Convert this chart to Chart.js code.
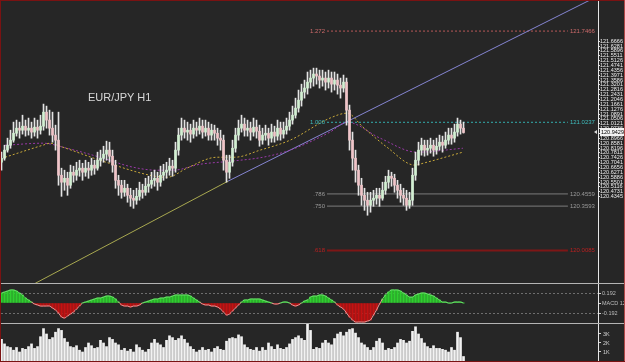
<!DOCTYPE html>
<html>
<head>
<meta charset="utf-8">
<script src="https://cdn.jsdelivr.net/npm/chart.js@4.4.0/dist/chart.umd.min.js"></script>
<style>
    body { margin: 0; width: 625px; height: 362px; background: #262626; position: relative; overflow: hidden; font-family: "Liberation Sans", Arial, sans-serif; }
    .pane { position: absolute; left: 1px; width: 623px; }
    #p1 { top: 1px; height: 282px; }
    #p2 { top: 284px; height: 39px; }
    #p3 { top: 324px; height: 37px; }
    .line { position: absolute; }
    #title { position: absolute; left: 88px; top: 91px; color: #d8d8d8; font-size: 11px; }
</style>
</head>
<body>
<div class="pane" id="p1"><canvas id="priceChart" width="623" height="282"></canvas></div>
<div class="pane" id="p2"><canvas id="macdChart" width="623" height="39"></canvas></div>
<div class="pane" id="p3"><canvas id="volChart" width="623" height="37"></canvas></div>
<div class="line" style="left:0;top:283px;width:625px;height:1px;background:#b4b4b4"></div>
<div class="line" style="left:0;top:323px;width:625px;height:1px;background:#b4b4b4"></div>
<div class="line" style="left:0;top:0;width:1px;height:362px;background:#7a1212"></div>
<div class="line" style="left:0;top:0;width:625px;height:1px;background:#7a1212"></div>
<div class="line" style="left:624px;top:0;width:1px;height:362px;background:#b04848"></div>
<div class="line" style="left:0;top:361px;width:625px;height:1px;background:#7a1212"></div>
<div id="title">EUR/JPY H1</div>
<script>
// EUR/JPY H1 candles (open of each bar = previous close)
const firstOpen = 120.707;
const closes = [
    120.739, 120.803, 120.842, 120.882, 120.937, 120.977, 120.961, 120.993, 120.961, 120.977,
    120.946, 120.985, 120.961, 120.993, 121.104, 121.041, 120.977, 120.922, 120.882, 120.604,
    120.549, 120.580, 120.525, 120.628, 120.604, 120.644, 120.660, 120.628, 120.660, 120.644,
    120.684, 120.660, 120.723, 120.739, 120.771, 120.803, 120.755, 120.684, 120.564, 120.525,
    120.469, 120.501, 120.445, 120.422, 120.406, 120.437, 120.485, 120.469, 120.517, 120.533,
    120.564, 120.580, 120.549, 120.604, 120.628, 120.644, 120.676, 120.660, 120.803, 120.922,
    120.977, 120.946, 120.961, 120.930, 120.977, 120.961, 120.993, 120.946, 120.977, 120.922,
    120.961, 120.937, 120.898, 120.882, 120.723, 120.628, 120.707, 120.818, 120.922, 120.977,
    121.009, 120.961, 120.977, 120.946, 120.985, 120.953, 120.882, 120.922, 120.937, 120.898,
    120.946, 120.914, 120.977, 120.930, 120.961, 120.993, 121.041, 121.080, 121.136, 121.199,
    121.263, 121.295, 121.342, 121.374, 121.406, 121.390, 121.358, 121.374, 121.342, 121.374,
    121.326, 121.358, 121.318, 121.295, 121.342, 121.120, 120.882, 120.739, 120.644, 120.525,
    120.445, 120.406, 120.366, 120.406, 120.422, 120.445, 120.422, 120.485, 120.549, 120.596,
    120.580, 120.525, 120.485, 120.445, 120.422, 120.366, 120.406, 120.604, 120.723, 120.803,
    120.842, 120.803, 120.818, 120.842, 120.803, 120.834, 120.866, 120.842, 120.882, 120.922,
    120.898, 120.946, 121.009, 120.977, 120.9429
];
const highs = [
    120.787, 120.842, 120.898, 120.961, 121.025, 121.041, 121.025, 121.080, 121.041, 121.057,
    121.025, 121.057, 121.041, 121.080, 121.168, 121.152, 121.120, 121.104, 121.001, 121.104,
    120.660, 120.644, 120.628, 120.684, 120.676, 120.707, 120.723, 120.699, 120.723, 120.707,
    120.739, 120.723, 120.787, 120.803, 120.834, 120.874, 120.866, 120.803, 120.723, 120.604,
    120.564, 120.564, 120.533, 120.501, 120.485, 120.501, 120.549, 120.533, 120.580, 120.596,
    120.628, 120.644, 120.628, 120.676, 120.691, 120.707, 120.739, 120.723, 120.866, 120.977,
    121.057, 121.041, 121.025, 121.009, 121.041, 121.025, 121.057, 121.041, 121.041, 121.025,
    121.009, 121.001, 120.977, 120.961, 120.922, 120.763, 120.763, 120.882, 120.977, 121.041,
    121.080, 121.057, 121.041, 121.025, 121.057, 121.041, 121.001, 120.977, 121.001, 120.977,
    121.009, 120.993, 121.041, 121.025, 121.025, 121.057, 121.104, 121.152, 121.215, 121.279,
    121.326, 121.358, 121.422, 121.437, 121.453, 121.453, 121.437, 121.437, 121.422, 121.437,
    121.422, 121.422, 121.406, 121.374, 121.398, 121.374, 121.160, 120.946, 120.803, 120.684,
    120.580, 120.501, 120.469, 120.469, 120.485, 120.501, 120.501, 120.549, 120.596, 120.644,
    120.628, 120.612, 120.564, 120.533, 120.501, 120.485, 120.469, 120.660, 120.787, 120.866,
    120.898, 120.882, 120.882, 120.898, 120.882, 120.898, 120.922, 120.914, 120.946, 120.977,
    120.977, 121.009, 121.057, 121.041, 121.025
];
const lows = [
    120.644, 120.723, 120.787, 120.818, 120.866, 120.914, 120.898, 120.930, 120.914, 120.922,
    120.898, 120.914, 120.898, 120.930, 120.961, 120.977, 120.922, 120.866, 120.803, 120.525,
    120.437, 120.485, 120.445, 120.501, 120.549, 120.564, 120.596, 120.564, 120.596, 120.580,
    120.604, 120.612, 120.644, 120.676, 120.707, 120.723, 120.707, 120.628, 120.501, 120.445,
    120.422, 120.437, 120.390, 120.358, 120.342, 120.374, 120.406, 120.422, 120.445, 120.469,
    120.501, 120.517, 120.485, 120.517, 120.564, 120.580, 120.604, 120.596, 120.628, 120.763,
    120.882, 120.898, 120.882, 120.866, 120.898, 120.914, 120.930, 120.898, 120.914, 120.882,
    120.882, 120.882, 120.842, 120.803, 120.644, 120.549, 120.580, 120.676, 120.787, 120.882,
    120.946, 120.914, 120.914, 120.882, 120.914, 120.898, 120.834, 120.850, 120.882, 120.842,
    120.866, 120.866, 120.882, 120.882, 120.898, 120.930, 120.961, 121.009, 121.057, 121.104,
    121.152, 121.215, 121.247, 121.295, 121.310, 121.326, 121.295, 121.310, 121.279, 121.295,
    121.263, 121.279, 121.247, 121.215, 121.263, 121.001, 120.803, 120.644, 120.549, 120.445,
    120.366, 120.326, 120.287, 120.311, 120.358, 120.374, 120.358, 120.406, 120.453, 120.501,
    120.517, 120.469, 120.422, 120.390, 120.366, 120.326, 120.342, 120.366, 120.564, 120.684,
    120.763, 120.755, 120.763, 120.779, 120.755, 120.771, 120.803, 120.787, 120.818, 120.850,
    120.850, 120.866, 120.914, 120.930, 120.938
];

// moving averages read at a few bars
const fastMaIdx = [1.2, 13.8, 16.2, 19.5, 32.8, 49.5, 55.2, 61.8, 69.5, 72.8, 77.8, 86.2, 96.2, 109.5, 115.2, 120.5, 128.5, 137.8, 140.5, 153.8];
const fastMa = [120.747, 120.842, 120.858, 120.834, 120.723, 120.604, 120.588, 120.660, 120.739, 120.747, 120.747, 120.803, 120.882, 121.057, 121.096, 120.985, 120.826, 120.684, 120.699, 120.787];
const slowMaIdx = [1.2, 13.8, 21.8, 32.8, 43.8, 51.8, 57.2, 66.2, 76.2, 87.2, 96.2, 109.5, 115.2, 126.2, 138.5, 153.8];
const slowMa = [120.842, 120.858, 120.818, 120.747, 120.668, 120.644, 120.644, 120.691, 120.715, 120.747, 120.803, 120.946, 121.025, 120.898, 120.787, 120.818];

// trend line
const trendIdx = [11.2, 75.5, 196.2];
const trendPrice = [119.747, 120.557, 121.993];

// fibonacci levels
const fibRatios = ['1.272', '1.000', '.786', '.750', '.618'];
const fibLevels = [121.7466, 121.0237, 120.4559, 120.3593, 120.0085];
const fibFrom = 108.5;
const fibTo = 188.8;

const priceTicks = [
    121.6666, 121.6281, 121.5896, 121.5511, 121.5126, 121.4741, 121.4356, 121.3971, 121.3586, 121.3201,
    121.2816, 121.2431, 121.2046, 121.1661, 121.1276, 121.0891, 121.0506, 121.0121, 120.9736, 120.9351,
    120.8966, 120.8581, 120.8196, 120.7811, 120.7426, 120.7041, 120.6656, 120.6271, 120.5886, 120.5501,
    120.5116, 120.4731, 120.4345
];

// MACD histogram
const macd = [
    0.192, 0.211, 0.230, 0.250, 0.250, 0.230, 0.192, 0.154, 0.096, 0.058,
    0.019, -0.019, -0.038, -0.058, -0.058, -0.058, -0.058, -0.096, -0.134, -0.192,
    -0.269, -0.288, -0.250, -0.211, -0.173, -0.115, -0.058, 0.000, 0.019, 0.038,
    0.058, 0.077, 0.096, 0.096, 0.115, 0.134, 0.134, 0.115, 0.077, 0.019,
    -0.038, -0.058, -0.058, -0.077, -0.058, -0.058, -0.038, 0.000, 0.019, 0.038,
    0.058, 0.077, 0.077, 0.096, 0.096, 0.115, 0.115, 0.134, 0.154, 0.154,
    0.154, 0.154, 0.154, 0.134, 0.096, 0.058, 0.019, -0.019, -0.038, -0.038,
    -0.058, -0.058, -0.077, -0.115, -0.173, -0.230, -0.211, -0.154, -0.096, -0.038,
    0.019, 0.058, 0.058, 0.077, 0.077, 0.077, 0.077, 0.058, 0.038, 0.019,
    0.000, -0.019, -0.019, 0.000, 0.019, 0.019, 0.000, -0.038, -0.058, -0.038,
    0.000, 0.038, 0.058, 0.115, 0.134, 0.134, 0.154, 0.154, 0.134, 0.096,
    0.058, 0.019, -0.038, -0.077, -0.115, -0.192, -0.269, -0.326, -0.365, -0.365,
    -0.365, -0.365, -0.346, -0.326, -0.230, -0.134, -0.019, 0.077, 0.154, 0.211,
    0.250, 0.250, 0.250, 0.230, 0.192, 0.154, 0.115, 0.115, 0.154, 0.173,
    0.192, 0.192, 0.173, 0.154, 0.134, 0.096, 0.058, 0.019, 0.019, 0.000,
    0.000, 0.019, 0.019, 0.019, 0.000
];
const macdTicks = [0.192, 0, -0.192];

// tick volume
const volumes = [
    2400, 1900, 1600, 1500, 1200, 1500, 1000, 1400, 1300, 1600,
    1900, 1400, 1600, 2700, 3600, 3000, 2400, 2600, 3200, 3600,
    3400, 2500, 2100, 1600, 1500, 1700, 1200, 1000, 1500, 2000,
    1700, 1400, 1500, 2300, 2000, 1600, 2600, 2400, 2000, 1800,
    1200, 1400, 1100, 1300, 1000, 1800, 1500, 1200, 1000, 1300,
    2000, 2400, 2000, 1800, 1500, 2300, 2800, 2600, 2300, 2500,
    2800, 2400, 2000, 1600, 1300, 1000, 1200, 1500, 1200, 1300,
    1000, 1400, 1600, 1300, 1200, 2200, 2500, 2600, 2500, 2900,
    2700, 1800, 1500, 1300, 1200, 1500, 1100, 1500, 1200, 2000,
    1600, 1300, 1800, 1400, 1300, 1500, 1900, 2400, 2600, 2800,
    2500, 2300, 4100, 3400, 1300, 1500, 1400, 2000, 2300, 2000,
    1800, 2500, 3000, 3200, 2800, 3200, 3500, 3600, 3100, 2600,
    2000, 1800, 1500, 1200, 1500, 2200, 2500, 2000, 1200, 1400,
    1300, 1500, 2000, 2400, 2300, 2000, 2200, 3300, 3800, 3000,
    2500, 2000, 1600, 1400, 1700, 1400, 1400, 1300, 1200, 1000,
    1500, 1200, 3200, 2600, 500
];
const volTicks = [3000, 2000, 1000];

const X_MIN = -0.17, X_MAX = 198.83;
const AXIS_W = 26;
const tickFont = { family: '"Liberation Sans", sans-serif', size: 5.5 };
const fibColors = ['#cc6a6a', '#3fbcbc', '#9a9a9a', '#9a9a9a', '#b82020'];
const fibLine = ['#b85858', '#34aeae', '#7c7c7c', '#7c7c7c', '#7e1616'];

const opens = closes.map((c, i) => i === 0 ? firstOpen : closes[i - 1]);
const idx = closes.map((c, i) => i);

function xAxis() {
    return { type: 'linear', display: false, min: X_MIN, max: X_MAX, offset: false };
}

function fitRight(s) {
    s.width = AXIS_W;
    s.paddingTop = 0;
    s.paddingBottom = 0;
}

const baseOptions = {
    responsive: false,
    animation: false,
    layout: { padding: 0 },
    plugins: { legend: { display: false }, tooltip: { enabled: false } }
};

const fibText = {
    id: 'fibText',
    afterDatasetsDraw(chart) {
        const { ctx, scales: { x, y } } = chart;
        ctx.save();
        ctx.font = '6px "Liberation Sans", sans-serif';
        ctx.textBaseline = 'middle';
        fibLevels.forEach((v, k) => {
            const py = y.getPixelForValue(v);
            ctx.fillStyle = fibColors[k];
            ctx.textAlign = 'right';
            ctx.fillText(fibRatios[k], x.getPixelForValue(fibFrom) - 2, py);
            ctx.textAlign = 'left';
            ctx.fillText(v.toFixed(4), x.getPixelForValue(fibTo) + 2, py);
        });
        ctx.restore();
    }
};

const lastPriceTag = {
    id: 'lastPriceTag',
    afterDraw(chart) {
        const { ctx, chartArea, scales: { y } } = chart;
        const v = closes[closes.length - 1];
        const py = Math.round(y.getPixelForValue(v));
        ctx.save();
        ctx.fillStyle = '#f2f2f2';
        ctx.fillRect(chartArea.right + 2, py - 4, 25, 8);
        ctx.fillStyle = '#000';
        ctx.font = '5.5px "Liberation Sans", sans-serif';
        ctx.textBaseline = 'middle';
        ctx.fillText(v.toFixed(4), chartArea.right + 3, py + 0.5);
        ctx.fillStyle = '#dddddd';
        ctx.beginPath();
        ctx.moveTo(chartArea.right - 4, py);
        ctx.lineTo(chartArea.right - 1, py - 2);
        ctx.lineTo(chartArea.right - 1, py + 2);
        ctx.fill();
        ctx.restore();
    }
};

// price pane
new Chart(document.getElementById('priceChart'), {
    type: 'bar',
    data: {
        datasets: [
            {
                label: 'bodies',
                data: idx.map(i => ({ x: i, y: [opens[i], closes[i]] })),
                backgroundColor: idx.map(i => closes[i] >= opens[i] ? '#d2f0d2' : '#f0c4c8'),
                barThickness: 2,
                grouped: false
            },
            {
                label: 'wicks',
                data: idx.map(i => ({ x: i, y: [lows[i], highs[i]] })),
                backgroundColor: '#e4e4e4',
                barThickness: 1,
                grouped: false
            },
            {
                type: 'line', label: 'fast MA',
                data: fastMaIdx.map((v, k) => ({ x: v, y: fastMa[k] })),
                borderColor: '#c9a93a', borderWidth: 1, borderDash: [2, 2],
                pointRadius: 0, cubicInterpolationMode: 'monotone'
            },
            {
                type: 'line', label: 'slow MA',
                data: slowMaIdx.map((v, k) => ({ x: v, y: slowMa[k] })),
                borderColor: '#9a3aa8', borderWidth: 1, borderDash: [2, 2],
                pointRadius: 0, cubicInterpolationMode: 'monotone'
            },
            {
                type: 'line', label: 'trend low',
                data: [{ x: trendIdx[0], y: trendPrice[0] }, { x: trendIdx[1], y: trendPrice[1] }],
                borderColor: '#a8a850', borderWidth: 1, pointRadius: 0
            },
            {
                type: 'line', label: 'trend high',
                data: [{ x: trendIdx[1], y: trendPrice[1] }, { x: trendIdx[2], y: trendPrice[2] }],
                borderColor: '#8585d2', borderWidth: 1, pointRadius: 0
            },
            ...fibLevels.map((v, k) => ({
                type: 'line', label: 'fib ' + fibRatios[k],
                data: [{ x: fibFrom, y: v }, { x: fibTo, y: v }],
                borderColor: fibLine[k],
                borderWidth: k === 4 ? 2 : 1,
                borderDash: k < 2 ? [2, 2] : [],
                pointRadius: 0
            }))
        ]
    },
    options: {
        ...baseOptions,
        scales: {
            x: xAxis(),
            y: {
                position: 'right',
                min: 119.75, max: 121.985,
                afterBuildTicks: s => { s.ticks = priceTicks.map(v => ({ value: v })); },
                afterFit: fitRight,
                ticks: { autoSkip: false, color: '#ececec', font: tickFont, padding: 0, callback: v => v.toFixed(4) },
                grid: { drawOnChartArea: false, tickLength: 2, tickColor: '#e0e0e0' },
                border: { color: '#e6e6e6' }
            }
        }
    },
    plugins: [fibText, lastPriceTag]
});

// MACD pane
new Chart(document.getElementById('macdChart'), {
    type: 'bar',
    data: {
        datasets: [
            {
                type: 'line', label: 'signal',
                data: idx.map(i => ({ x: i, y: macd[i] })),
                borderWidth: 1, pointRadius: 0, tension: 0.3,
                segment: { borderColor: c => (c.p0.parsed.y < 0 || c.p1.parsed.y < 0) ? '#e89a9a' : '#6fe06f' }
            },
            {
                label: 'MACD',
                data: idx.map(i => ({ x: i, y: macd[i] })),
                backgroundColor: macd.map(v => v >= 0 ? '#2fcf2f' : '#c41212'),
                barThickness: 2,
                grouped: false
            }
        ]
    },
    options: {
        ...baseOptions,
        scales: {
            x: xAxis(),
            y: {
                position: 'right',
                min: -0.384, max: 0.365,
                afterBuildTicks: s => { s.ticks = macdTicks.map(v => ({ value: v })); },
                afterFit: fitRight,
                ticks: { autoSkip: false, color: '#bdbdbd', font: tickFont, padding: 1, callback: v => v === 0 ? 'MACD 12,26,9' : v.toFixed(3) },
                grid: {
                    color: c => c.tick && c.tick.value === 0 ? 'rgba(0,0,0,0)' : '#6e6e6e',
                    tickLength: 3, tickColor: '#cfcfcf'
                },
                border: { color: '#e6e6e6', dash: [2, 2] }
            }
        }
    }
});

// volume pane
new Chart(document.getElementById('volChart'), {
    type: 'bar',
    data: {
        datasets: [{
            label: 'Volume',
            data: idx.map(i => ({ x: i, y: volumes[i] })),
            backgroundColor: '#f2f2f2',
            barThickness: 2
        }]
    },
    options: {
        ...baseOptions,
        scales: {
            x: xAxis(),
            y: {
                position: 'right',
                min: 0, max: 4111,
                afterBuildTicks: s => { s.ticks = volTicks.map(v => ({ value: v })); },
                afterFit: fitRight,
                ticks: { autoSkip: false, color: '#cfcfcf', font: tickFont, padding: 2, callback: v => (v / 1000) + 'K' },
                grid: { drawOnChartArea: false, tickLength: 3, tickColor: '#cfcfcf' },
                border: { color: '#e6e6e6' }
            }
        }
    }
});
</script>
</body>
</html>
